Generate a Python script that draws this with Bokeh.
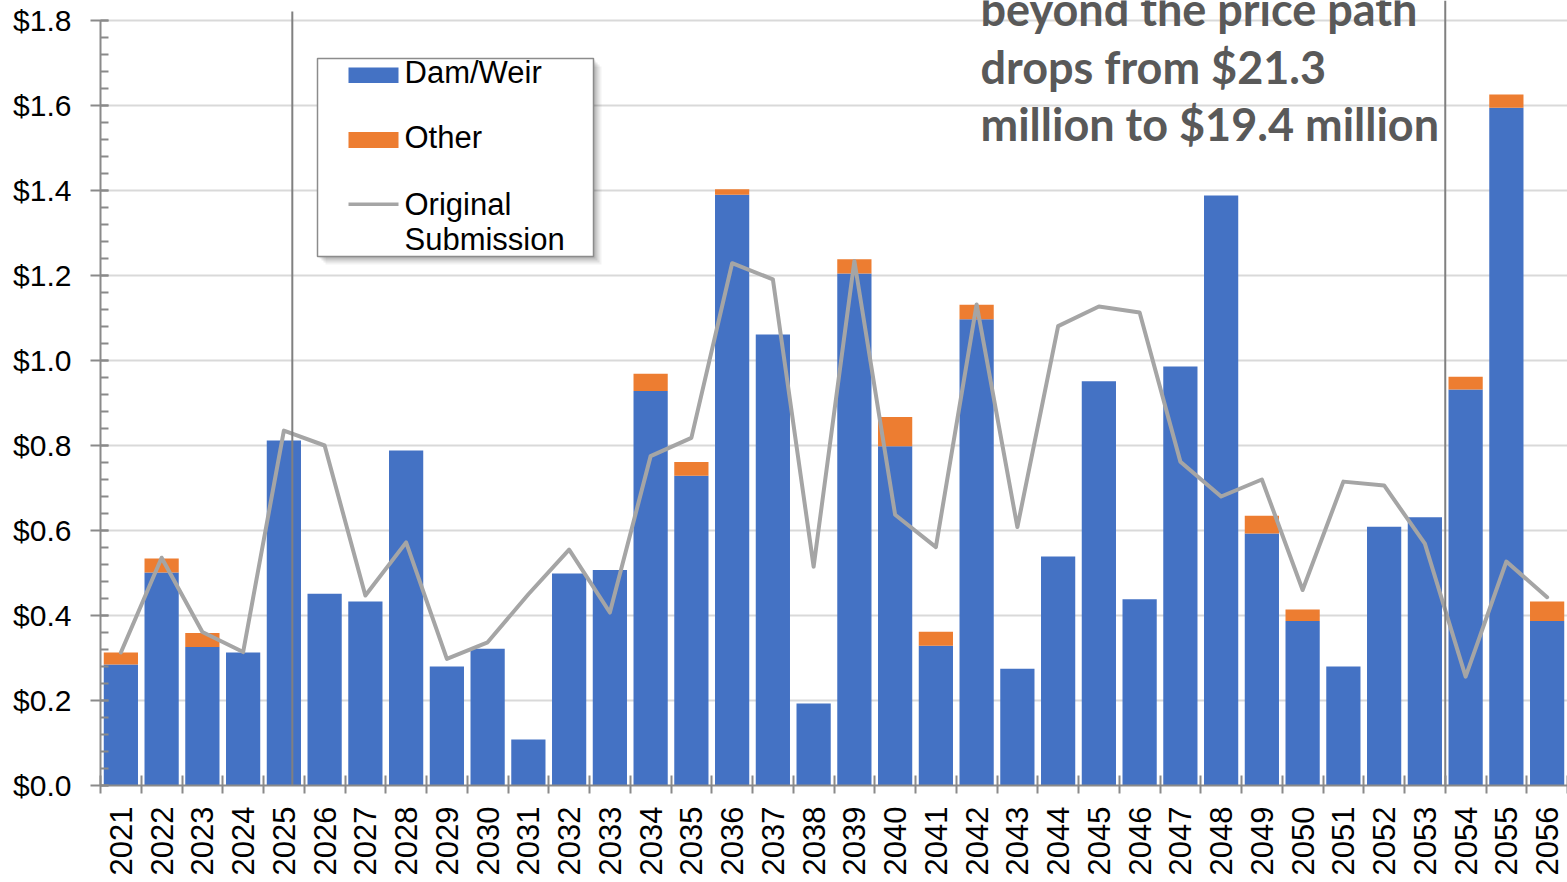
import math

from bokeh.plotting import figure
from bokeh.models import (ColumnDataSource, FixedTicker, Range1d, BoxAnnotation,
                          Label, NumeralTickFormatter)
from bokeh.embed import file_html
from bokeh.resources import INLINE

# ---- data ($ millions per year) ----
years = list(range(2021, 2057))
dam_weir = [0.285, 0.501, 0.326, 0.313, 0.812, 0.451, 0.433, 0.788, 0.280, 0.322,
            0.108, 0.499, 0.507, 0.928, 0.729, 1.390, 1.061, 0.193, 1.205, 0.798,
            0.329, 1.097, 0.275, 0.539, 0.951, 0.438, 0.986, 1.388, 0.593, 0.387,
            0.280, 0.609, 0.631, 0.932, 1.595, 0.387]
other = [0.028, 0.033, 0.033, 0.0, 0.0, 0.0, 0.0, 0.0, 0.0, 0.0,
         0.0, 0.0, 0.0, 0.041, 0.032, 0.013, 0.0, 0.0, 0.033, 0.069,
         0.033, 0.034, 0.0, 0.0, 0.0, 0.0, 0.0, 0.0, 0.042, 0.027,
         0.0, 0.0, 0.0, 0.030, 0.031, 0.046]
original_submission = [0.313, 0.536, 0.361, 0.314, 0.835, 0.800, 0.447, 0.572, 0.298, 0.337,
                       0.450, 0.555, 0.407, 0.775, 0.818, 1.229, 1.191, 0.515, 1.234, 0.637,
                       0.561, 1.132, 0.608, 1.081, 1.127, 1.113, 0.762, 0.680, 0.720, 0.460,
                       0.715, 0.706, 0.569, 0.256, 0.527, 0.443]
y_ticks = [0.0, 0.2, 0.4, 0.6, 0.8, 1.0, 1.2, 1.4, 1.6, 1.8]
series_names = ["Dam/Weir", "Other", "Original Submission"]
note_lines = ["beyond the price path", "drops from $21.3", "million to $19.4 million"]

# period boundary markers (x in year units)
period_marks = [2025.207, 2053.5]

# ---- layout ----
W, H = 1567, 882
LEFT, BOTTOM = 100, 97
FRAME_W, FRAME_H = W - LEFT, H - BOTTOM
PX_PER_UNIT = 425.0
X0, X1 = years[0] - 0.5, years[-1] + 0.5

BLUE, ORANGE, GREY = "#4472C4", "#ED7D31", "#A5A5A5"
AXIS = "#8a8a8a"
FONT = "Liberation Sans"


def px_x(px):
    return X0 + (px - LEFT) / FRAME_W * (X1 - X0)


def px_y(py):
    return (FRAME_H - py) / PX_PER_UNIT


p = figure(width=W, height=H,
           x_range=Range1d(X0, X1), y_range=Range1d(0, FRAME_H / PX_PER_UNIT),
           output_backend="svg", toolbar_location=None,
           min_border_left=LEFT, min_border_right=0, min_border_top=0,
           min_border_bottom=BOTTOM, outline_line_color=None,
           background_fill_color="white", border_fill_color="white")

# grid
p.xgrid.visible = False
p.ygrid.ticker = FixedTicker(ticks=y_ticks)
p.ygrid.grid_line_color = "#d9d9d9"
p.ygrid.grid_line_width = 2

# x axis: labels at year centres, tick marks between years
xa = p.xaxis[0]
xa.ticker = FixedTicker(ticks=years, minor_ticks=[y - 0.5 for y in years] + [years[-1] + 0.5])
xa.major_tick_out = 0
xa.major_tick_in = 0
xa.minor_tick_out = 8
xa.minor_tick_in = 10
xa.minor_tick_line_color = AXIS
xa.minor_tick_line_width = 2
xa.axis_line_color = AXIS
xa.axis_line_width = 2
xa.major_label_orientation = math.pi / 2
xa.major_label_text_font = FONT
xa.major_label_text_font_size = "31px"
xa.major_label_text_color = "black"
xa.major_label_standoff = 13

# y axis
ya = p.yaxis[0]
ya.ticker = FixedTicker(ticks=y_ticks,
                        minor_ticks=[round(0.04 * k, 2) for k in range(46)])
ya.formatter = NumeralTickFormatter(format="$0.0")
ya.bounds = (y_ticks[0], y_ticks[-1])
ya.major_tick_out = 10
ya.major_tick_in = 8
ya.minor_tick_out = 0
ya.minor_tick_in = 8
ya.major_tick_line_color = AXIS
ya.minor_tick_line_color = AXIS
ya.major_tick_line_width = 2
ya.minor_tick_line_width = 2
ya.axis_line_color = AXIS
ya.axis_line_width = 2
ya.major_label_text_font = FONT
ya.major_label_text_font_size = "30px"
ya.major_label_text_color = "black"
ya.major_label_standoff = 19

# stacked bars
src = ColumnDataSource(dict(year=years, dam=dam_weir, other=other,
                            orig=original_submission))
p.vbar_stack(["dam", "other"], x="year", width=0.84, color=[BLUE, ORANGE],
             line_color=None, source=src)

# original submission line
p.line("year", "orig", source=src, line_color=GREY, line_width=4,
       line_join="round", line_cap="round")

# period markers
p.segment(x0=[period_marks[0]], y0=[-0.05], x1=[period_marks[0]], y1=[px_y(11)],
          line_color="#808080", line_width=2)
p.segment(x0=[period_marks[1]], y0=[-0.05], x1=[period_marks[1]], y1=[px_y(0)],
          line_color="#808080", line_width=2)

# ---- legend box ----
lg_l, lg_r, lg_t, lg_b = 317, 593, 58, 256
for off, a in [(8, 0.05), (6, 0.07), (4, 0.09), (2, 0.10)]:
    p.add_layout(BoxAnnotation(left=px_x(lg_l + off), right=px_x(lg_r + off),
                               top=px_y(lg_t + off), bottom=px_y(lg_b + off),
                               fill_color="black", fill_alpha=a,
                               line_color=None))
p.add_layout(BoxAnnotation(left=px_x(lg_l), right=px_x(lg_r),
                           top=px_y(lg_t), bottom=px_y(lg_b),
                           fill_color="white", fill_alpha=1.0,
                           line_color="#8c8c8c", line_alpha=1.0, line_width=1.5))

sw_l, sw_r = px_x(348), px_x(398)
p.add_layout(BoxAnnotation(left=sw_l, right=sw_r, top=px_y(67), bottom=px_y(82.5),
                           fill_color=BLUE, fill_alpha=1.0, line_color=None))
p.add_layout(BoxAnnotation(left=sw_l, right=sw_r, top=px_y(131.5), bottom=px_y(147.5),
                           fill_color=ORANGE, fill_alpha=1.0, line_color=None))
p.add_layout(BoxAnnotation(left=sw_l, right=sw_r, top=px_y(202), bottom=px_y(205.5),
                           fill_color=GREY, fill_alpha=1.0, line_color=None))

# text rows are placed by their vertical middle
LEG_FS = 31
legend_rows = [(series_names[0], 83), (series_names[1], 148.5),
               ("Original", 215.5), ("Submission", 250.5)]
for txt, base in legend_rows:
    p.add_layout(Label(x=px_x(404), y=px_y(base - 0.36 * LEG_FS), text=txt,
                       text_baseline="middle", text_align="left",
                       text_font=FONT, text_font_size=f"{LEG_FS}px",
                       text_color="black"))

# ---- note text ----
NOTE_FS = 45
for txt, base in zip(note_lines, [25, 82.5, 140]):
    p.add_layout(Label(x=px_x(980), y=px_y(base - 0.36 * NOTE_FS), text=txt,
                       text_baseline="middle", text_align="left",
                       text_font="Lato", text_font_style="bold",
                       text_font_size=f"{NOTE_FS}px", text_color="#595959"))

open("out.html", "w").write(file_html(p, INLINE))
